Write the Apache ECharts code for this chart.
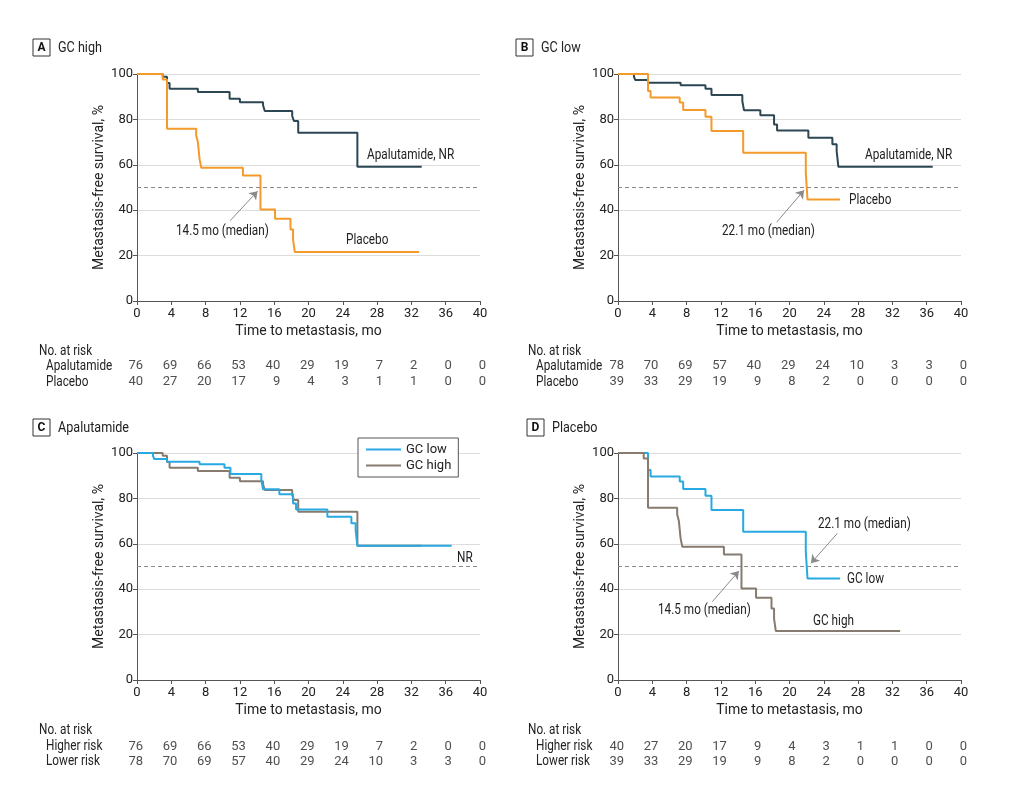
<!DOCTYPE html>
<html>
<head>
<meta charset="utf-8">
<script src="https://cdn.jsdelivr.net/npm/echarts@6/dist/echarts.min.js"></script>
<style>
  html, body { margin: 0; padding: 0; background: #fff; }
  #main { width: 1016px; height: 808px; }
</style>
</head>
<body>
<div id="main"></div>
<script>
var chartDom = document.getElementById('main');
var myChart = echarts.init(chartDom);
var option;

var FONT = "'Liberation Sans Narrow', 'Roboto', sans-serif";
var SQUEEZE = 0.84; // the source font is condensed

// Kaplan-Meier curves: [months, survival %]
var gcHighApalutamide = [[0, 100], [3.0, 98.8], [3.5, 96], [3.8, 93.5], [7.1, 92.1], [10.8, 89.1], [12.0, 87.6],
    [14.7, 86.2], [14.9, 83.7], [18.1, 81.5], [18.3, 79.3], [18.8, 74.1], [25.7, 59.1], [33.2, 59.1]];
var gcHighPlacebo = [[0, 100], [3.0, 97.6], [3.5, 75.9], [6.9, 72.9], [7.1, 70], [7.3, 62.4], [7.5, 58.7],
    [12.35, 55.3], [14.4, 40.3], [16.1, 36.2], [17.9, 31.5], [18.2, 27], [18.4, 21.6], [32.9, 21.6]];
var gcLowApalutamide = [[0, 100], [1.86, 98.8], [2.0, 97.4], [3.5, 96.2], [7.3, 95], [10.2, 93.5], [10.9, 90.7],
    [14.5, 88], [14.7, 84], [16.6, 81.8], [18.2, 77.8], [18.55, 75.1], [22.2, 71.9], [25.0, 69], [25.5, 66],
    [25.7, 59.1], [36.7, 59.1]];
var gcLowPlacebo = [[0, 100], [3.5, 92.5], [3.8, 89.6], [7.2, 87.4], [7.6, 84.1], [10.2, 81.2], [10.9, 74.9],
    [14.6, 65.3], [21.9, 56.5], [22.1, 44.7], [25.9, 44.7]];

// numbers at risk
var riskTimes = [0, 4, 8, 12, 16, 20, 24, 28, 32, 36, 40];
var riskHighApa = [76, 69, 66, 53, 40, 29, 19, 7, 2, 0, 0];
var riskHighPla = [40, 27, 20, 17, 9, 4, 3, 1, 1, 0, 0];
var riskLowApa = [78, 70, 69, 57, 40, 29, 24, 10, 3, 3, 0];
var riskLowPla = [39, 33, 29, 19, 9, 8, 2, 0, 0, 0, 0];

// median arrows: [tail, head]
var arrowA = [[10.87, 35.4], [14.06, 48.4]];
var arrowB = [[18.5, 34.7], [21.7, 48.8]];
var arrowD1 = [[25.58, 64.6], [22.5, 51.4]];
var arrowD2 = [[11.0, 34.5], [14.1, 48.0]];

var C_DARK = '#2c4753';
var C_ORANGE = '#f39a2b';
var C_BLUE = '#29a9e1';
var C_GRAY = '#857b6f';

var plotPos = [[137, 74], [618, 74], [137, 453], [618, 453]];
var tablePos = [[137, 358, 32], [618, 358, 32], [137, 739, 30], [618, 739, 30]];

var grids = [], xAxes = [], yAxes = [], series = [];

plotPos.forEach(function (p, i) {
    grids.push({ left: p[0], top: p[1], width: 343, height: 227 });
    xAxes.push({
        gridIndex: i, type: 'value', min: 0, max: 40, interval: 4,
        axisLine: { show: true, lineStyle: { color: '#555', width: 1 } },
        axisTick: { show: true, length: 4, lineStyle: { color: '#555' } },
        axisLabel: { color: '#222', fontSize: 13, margin: 6, fontFamily: FONT },
        splitLine: { show: false },
        name: 'Time to metastasis, mo', nameLocation: 'middle', nameGap: 23,
        nameTextStyle: { color: '#222', fontSize: 14, fontFamily: FONT }
    });
    yAxes.push({
        gridIndex: i, type: 'value', min: 0, max: 100, interval: 20,
        axisLine: { show: true, lineStyle: { color: '#555', width: 1 } },
        axisTick: { show: true, length: 4, lineStyle: { color: '#555' } },
        axisLabel: { color: '#222', fontSize: 13, margin: 4, fontFamily: FONT },
        splitLine: { show: true, lineStyle: { color: '#dcdcdc' } },
        name: 'Metastasis-free survival, %', nameLocation: 'middle', nameGap: 31,
        nameTextStyle: { color: '#222', fontSize: 14, fontFamily: FONT }
    });
});

tablePos.forEach(function (p, i) {
    grids.push({ left: p[0], top: p[1], width: 343, height: p[2] });
    xAxes.push({ gridIndex: 4 + i, type: 'value', min: 0, max: 40, show: false });
    yAxes.push({ gridIndex: 4 + i, type: 'category', data: ['r0', 'r1'], inverse: true, show: false });
});

function kmSeries(name, data, color, idx, extra) {
    var s = {
        name: name, type: 'line', step: 'end', data: data, xAxisIndex: idx, yAxisIndex: idx,
        symbol: 'none', lineStyle: { color: color, width: 2 }, itemStyle: { color: color },
        animation: false, z: 3
    };
    if (extra) s.markLine = extra;
    return s;
}

function medianLine() {
    return {
        silent: true, symbol: ['none', 'none'], label: { show: false },
        lineStyle: { color: '#8a8a8a', type: [4, 3], width: 1 },
        data: [{ yAxis: 50 }], animation: false
    };
}

function arrowLines(list) {
    return {
        silent: true, symbol: ['none', 'arrow'], symbolSize: 8, label: { show: false },
        lineStyle: { color: '#8a8a8a', type: 'solid', width: 1 },
        data: list.map(function (a) { return [{ coord: a[0] }, { coord: a[1] }]; }),
        animation: false
    };
}

// A: GC high
series.push(kmSeries('Apalutamide', gcHighApalutamide, C_DARK, 0, medianLine()));
series.push(kmSeries('Placebo', gcHighPlacebo, C_ORANGE, 0, arrowLines([arrowA])));
// B: GC low
series.push(kmSeries('Apalutamide', gcLowApalutamide, C_DARK, 1, medianLine()));
series.push(kmSeries('Placebo', gcLowPlacebo, C_ORANGE, 1, arrowLines([arrowB])));
// C: Apalutamide
series.push(kmSeries('GC high', gcHighApalutamide, C_GRAY, 2, medianLine()));
series.push(kmSeries('GC low', gcLowApalutamide, C_BLUE, 2));
// D: Placebo
series.push(kmSeries('GC low', gcLowPlacebo, C_BLUE, 3, medianLine()));
series.push(kmSeries('GC high', gcHighPlacebo, C_GRAY, 3, arrowLines([arrowD1, arrowD2])));

function riskSeries(rows, idx) {
    var data = [];
    rows.forEach(function (row, r) {
        row.forEach(function (n, k) { data.push([riskTimes[k], r, n]); });
    });
    return {
        type: 'scatter', xAxisIndex: idx, yAxisIndex: idx, data: data, symbolSize: 0,
        silent: true, animation: false,
        label: {
            show: true, position: 'inside', align: 'right', offset: [6, 0],
            color: '#222', fontSize: 13, fontFamily: FONT,
            formatter: function (p) { return String(p.value[2]); }
        }
    };
}
series.push(riskSeries([riskHighApa, riskHighPla], 4));
series.push(riskSeries([riskLowApa, riskLowPla], 5));
series.push(riskSeries([riskHighApa, riskLowApa], 6));
series.push(riskSeries([riskHighPla, riskLowPla], 7));

function txtMid(x, y, s, size) {
    return {
        type: 'text', x: x, y: y, scaleX: SQUEEZE, silent: true,
        style: { text: s, fill: '#222', fontSize: size || 14, fontFamily: FONT, verticalAlign: 'middle' }
    };
}
function panelTitle(x, y, letter, title) {
    return [
        { type: 'rect', shape: { x: x, y: y, width: 17, height: 17 }, style: { fill: '#fff', stroke: '#333', lineWidth: 1 }, silent: true },
        { type: 'text', x: x + 8.5, y: y + 9, silent: true,
          style: { text: letter, fill: '#111', fontSize: 12, fontWeight: 'bold', fontFamily: FONT, align: 'center', verticalAlign: 'middle' } },
        txtMid(x + 25, y + 9, title, 15)
    ];
}

var graphics = [].concat(
    panelTitle(33, 39, 'A', 'GC high'),
    panelTitle(516, 39, 'B', 'GC low'),
    panelTitle(33, 419, 'C', 'Apalutamide'),
    panelTitle(527, 419, 'D', 'Placebo'),
    [
        txtMid(39, 351, 'No. at risk'), txtMid(46, 366, 'Apalutamide'), txtMid(46, 382, 'Placebo'),
        txtMid(528, 351, 'No. at risk'), txtMid(536, 366, 'Apalutamide'), txtMid(536, 382, 'Placebo'),
        txtMid(39, 730, 'No. at risk'), txtMid(46, 746, 'Higher risk'), txtMid(46, 761, 'Lower risk'),
        txtMid(528, 730, 'No. at risk'), txtMid(536, 746, 'Higher risk'), txtMid(536, 761, 'Lower risk'),
        // annotations
        txtMid(367, 155, 'Apalutamide, NR'), txtMid(346, 240, 'Placebo'), txtMid(176, 231, '14.5 mo (median)'),
        txtMid(865, 155, 'Apalutamide, NR'), txtMid(849, 200, 'Placebo'), txtMid(722, 231, '22.1 mo (median)'),
        txtMid(457, 558, 'NR'),
        txtMid(818, 524, '22.1 mo (median)'), txtMid(847, 579, 'GC low'),
        txtMid(658, 610, '14.5 mo (median)'), txtMid(813, 621, 'GC high')
    ]
);

option = {
    backgroundColor: '#fff',
    textStyle: { fontFamily: FONT },
    grid: grids,
    xAxis: xAxes,
    yAxis: yAxes,
    legend: {
        data: ['GC low', 'GC high'], orient: 'vertical', left: 358, top: 438,
        backgroundColor: '#fff', borderColor: '#555', borderWidth: 1, borderRadius: 0,
        padding: [5, 7, 5, 8], itemGap: 3, itemWidth: 35, itemHeight: 2, icon: 'rect',
        selectedMode: false,
        textStyle: { color: '#222', fontSize: 13, fontFamily: FONT }
    },
    graphic: graphics,
    series: series
};

option && myChart.setOption(option);
</script>
</body>
</html>
